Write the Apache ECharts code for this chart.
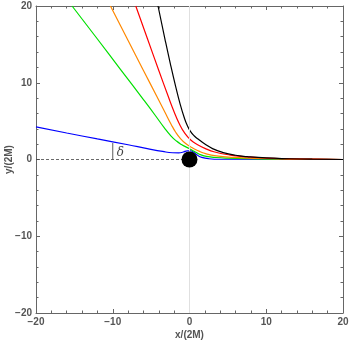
<!DOCTYPE html>
<html>
<head>
<meta charset="utf-8">
<script src="https://cdn.jsdelivr.net/npm/echarts@6/dist/echarts.min.js"></script>
<style>html,body{margin:0;padding:0;background:#fff}#c{width:350px;height:343px}</style>
</head>
<body>
<div id="c"></div>
<script>
// Ray data (x/(2M), y/(2M))
const blackX = [-4.1, -3.2, -2.5, -1.8, -1.2, -0.7, -0.3, 0.1, 0.6, 1.2, 2.0, 3.0, 4.4, 6, 7.5, 10, 13, 16, 20];
const blackY = [20, 15.7, 12.5, 9.5, 7.15, 5.5, 4.45, 3.7, 3.1, 2.6, 2.02, 1.42, 0.9, 0.55, 0.38, 0.2, 0.1, 0.04, 0];
const redX = [-7.0, -5.5, -4.0, -2.8, -2.0, -1.3, -0.6, 0.2, 1.0, 2.0, 3.3, 5.3, 7, 10, 14, 20];
const redY = [20, 15.8, 11.6, 8.3, 6.2, 4.6, 3.4, 2.5, 1.95, 1.45, 0.98, 0.58, 0.38, 0.19, 0.07, 0];
const orangeX = [-10.3, -8.0, -6.0, -4.3, -3.2, -2.4, -1.8, -1.2, -0.5, 0.3, 1.15, 2.1, 3.5, 5.7, 9, 13, 20];
const orangeY = [20, 15.5, 11.6, 8.3, 6.15, 4.6, 3.55, 2.75, 2.08, 1.55, 1.12, 0.76, 0.47, 0.28, 0.14, 0.06, 0];
const greenX = [-15.3, -12, -9, -6, -4.5, -3.3, -2.4, -1.7, -1.0, -0.35, 0.3, 0.9, 1.5, 2.2, 3.5, 5, 8, 12, 20];
const greenY = [20, 15.7, 11.75, 7.8, 5.8, 4.15, 3.05, 2.4, 1.92, 1.58, 1.25, 0.9, 0.6, 0.4, 0.26, 0.18, 0.1, 0.04, 0];
const blueX = [-20, -16, -12, -8, -5.5, -3.5, -2.2, -1.4, -0.8, -0.3, 0.2, 0.6, 1.0, 1.6, 2.5, 4, 20];
const blueY = [4.25, 3.45, 2.68, 1.92, 1.42, 1.05, 0.88, 0.86, 0.98, 1.13, 1.12, 0.9, 0.58, 0.28, 0.1, 0.03, 0];
// black hole at origin
const holeX = [0];
const holeY = [0];
// reference (dashed) axis line and angle mark
const dashX = [-20, 0];
const dashY = [0, 0];
const angleX = [-10, -10];
const angleY = [0, 2.15];
const deltaLabel = {x: -9.0, y: 0.85, text: 'δ'};
// ticks
const axisMin = -20, axisMax = 20, axisInterval = 10;

const zip = (xs, ys) => xs.map((x, i) => [x, ys[i]]);
const fmt = v => (v < 0 ? '\u2212' + Math.abs(v) : String(v));
const labelStyle = {color: '#555', fontSize: 10, fontFamily: 'Liberation Sans, Arial, sans-serif', fontWeight: 'bold'};
const frameColor = '#666';

function mkAxis(pos, show, extra) {
  return Object.assign({
    type: 'value', position: pos, min: axisMin, max: axisMax, interval: axisInterval,
    axisLine: {show: true, onZero: false, lineStyle: {color: frameColor, width: 1}},
    axisTick: {show: true, inside: true, length: 4, lineStyle: {color: frameColor}},
    minorTick: {show: true, splitNumber: 5, length: 2.5, lineStyle: {color: frameColor}},
    splitLine: {show: false},
    axisLabel: show ? Object.assign({formatter: fmt, margin: 4}, labelStyle) : {show: false}
  }, extra || {});
}

const lineSeries = (name, xs, ys, color) => ({
  type: 'line', name, data: zip(xs, ys), showSymbol: false, smooth: 0.5,
  lineStyle: {color, width: 1.2}, xAxisIndex: 0, yAxisIndex: 0, z: 3, silent: true
});

const chart = echarts.init(document.getElementById('c'), null, {renderer: 'canvas'});
chart.setOption({
  animation: false,
  grid: {left: 36, right: 7, top: 6, bottom: 30, containLabel: false, outerBoundsMode: 'none'},
  xAxis: [
    mkAxis('bottom', true, {name: 'x/(2M)', nameLocation: 'middle', nameGap: 17, nameMoveOverlap: false,
      nameTextStyle: labelStyle}),
    mkAxis('top', false)
  ],
  yAxis: [
    mkAxis('left', true, {name: 'y/(2M)', nameLocation: 'middle', nameGap: 22, nameMoveOverlap: false,
      nameTextStyle: labelStyle}),
    mkAxis('right', false)
  ],
  series: [
    {
      type: 'line', data: zip(dashX, dashY), showSymbol: false, silent: true,
      lineStyle: {color: '#444', width: 0.8, type: [3, 2]}, z: 2,
      markLine: {
        silent: true, symbol: 'none', label: {show: false},
        lineStyle: {color: '#e0e0e0', width: 1, type: 'solid'},
        data: [{xAxis: 0}]
      }
    },
    {
      type: 'line', data: zip(angleX, angleY), showSymbol: false, silent: true,
      lineStyle: {color: '#333', width: 0.8}, z: 2
    },
    {
      type: 'scatter', data: [[deltaLabel.x, deltaLabel.y]], symbolSize: 0, silent: true,
      label: {show: true, formatter: deltaLabel.text, position: 'inside', color: '#111',
        fontSize: 12, fontStyle: 'italic', fontFamily: 'DejaVu Serif, serif'}, z: 4
    },
    lineSeries('blue', blueX, blueY, '#0000ff'),
    lineSeries('green', greenX, greenY, '#00e000'),
    lineSeries('orange', orangeX, orangeY, '#ff8800'),
    lineSeries('red', redX, redY, '#ff0000'),
    lineSeries('black', blackX, blackY, '#000000'),
    {
      type: 'scatter', data: zip(holeX, holeY), symbol: 'circle', symbolSize: 16,
      itemStyle: {color: '#000', opacity: 1}, z: 6, silent: true
    }
  ]
});
</script>
</body>
</html>
